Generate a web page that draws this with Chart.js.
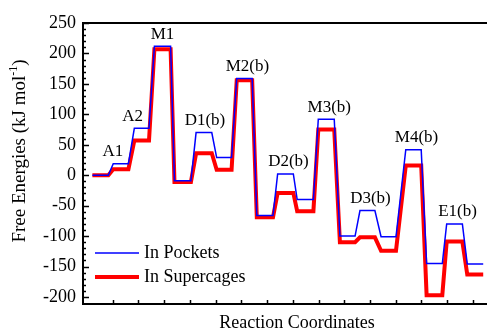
<!DOCTYPE html>
<html>
<head>
<meta charset="utf-8">
<script src="https://cdn.jsdelivr.net/npm/chart.js@4.4.1/dist/chart.umd.min.js"></script>
<style>
  html, body { margin: 0; padding: 0; background: #fff; overflow: hidden; }
  #wrap { width: 512px; height: 333px; }
</style>
</head>
<body>
<div id="wrap"><canvas id="chart" width="512" height="333"></canvas></div>
<script>
// names of the plateaus ('' = unlabelled intermediate)
const stateNames = ['', 'A1', 'A2', 'M1', '', 'D1(b)', '', 'M2(b)', '', 'D2(b)', '', 'M3(b)', '', 'D3(b)', '', 'M4(b)', '', 'E1(b)', ''];
// where each plateau starts / ends along the reaction coordinate
const levelStart = [0.21, 1.02, 1.84, 2.62, 3.40, 4.24, 5.04, 5.82, 6.60, 7.41, 8.17, 8.99, 9.83, 10.61, 11.43, 12.39, 13.20, 13.98, 14.78];
const levelEnd = [0.83, 1.61, 2.41, 3.25, 4.04, 4.85, 5.62, 6.42, 7.23, 8.02, 8.80, 9.61, 10.42, 11.19, 12.01, 12.99, 13.81, 14.59, 15.40];
// free energies, kJ/mol
const pocketsEnergy = [0, 19, 77, 212, -9, 70, 29, 159, -66, 2, -40, 92, -100, -58, -101, 42, -145, -80, -146];
const supercagesEnergy = [0, 10, 57, 207, -11, 36, 9, 156, -69, -29, -59, 75, -110, -102, -124, 16, -197, -109, -163];
const yTickLabels = [-200, -150, -100, -50, 0, 50, 100, 150, 200, 250];

const serif = '"Liberation Serif", "Times New Roman", serif';
Chart.defaults.font.family = serif;
Chart.defaults.color = '#000';

// each plateau -> two points (flat segment), slants come from joining them
function toPoints(values) {
  return values.flatMap((v, i) => [{ x: levelStart[i], y: v }, { x: levelEnd[i], y: v }]);
}

// small nudges for the state labels (px)
const labelShift = { 'A1': -8, 'A2': -9, 'M1': 0, 'D1(b)': 1 };

const decorPlugin = {
  id: 'decor',
  afterDraw(chart) {
    const { ctx, chartArea, scales } = chart;
    const xs = scales.x, ys = scales.y;
    ctx.save();
    ctx.strokeStyle = '#000';

    // top frame line
    ctx.lineWidth = 2;
    ctx.beginPath();
    ctx.moveTo(chartArea.left, chartArea.top);
    ctx.lineTo(chartArea.right, chartArea.top);
    ctx.stroke();

    // inward ticks on y (major every 50, minor every 10)
    ctx.lineWidth = 1.5;
    ys.ticks.forEach(t => {
      if (t.value % 10 !== 0) return;
      const y = Math.round(ys.getPixelForValue(t.value)) + 0.5;
      const len = t.value % 50 === 0 ? 6 : 3;
      ctx.beginPath();
      ctx.moveTo(chartArea.left, y);
      ctx.lineTo(chartArea.left + len, y);
      ctx.stroke();
    });
    // upward ticks on x
    xs.ticks.forEach(t => {
      if (!Number.isInteger(t.value)) return;
      const x = Math.round(xs.getPixelForValue(t.value)) + 0.5;
      ctx.beginPath();
      ctx.moveTo(x, chartArea.bottom);
      ctx.lineTo(x, chartArea.bottom - 4);
      ctx.stroke();
    });

    // state labels above the "In Pockets" plateaus
    ctx.fillStyle = '#000';
    ctx.font = '17px ' + serif;
    ctx.textAlign = 'center';
    ctx.textBaseline = 'middle';
    stateNames.forEach((name, i) => {
      if (!name) return;
      const mid = (levelStart[i] + levelEnd[i]) / 2;
      const dx = labelShift[name] !== undefined ? labelShift[name] : 3;
      ctx.fillText(name, xs.getPixelForValue(mid) + dx, ys.getPixelForValue(pocketsEnergy[i]) - 12);
    });

    // y axis title with superscript
    ctx.save();
    ctx.translate(20, 151);
    ctx.rotate(-Math.PI / 2);
    const main = 'Free Energies (kJ mol';
    const sup = '-1';
    const close = ')';
    ctx.font = '19px ' + serif;
    const wMain = ctx.measureText(main).width;
    const wClose = ctx.measureText(close).width;
    ctx.font = '12px ' + serif;
    const wSup = ctx.measureText(sup).width;
    const x0 = -(wMain + wSup + wClose) / 2;
    ctx.textAlign = 'left';
    ctx.font = '19px ' + serif;
    ctx.fillText(main, x0, 0);
    ctx.font = '12px ' + serif;
    ctx.fillText(sup, x0 + wMain, -6);
    ctx.font = '19px ' + serif;
    ctx.fillText(close, x0 + wMain + wSup, 0);
    ctx.restore();

    // legend, bottom-left inside the plot
    ctx.font = '18px ' + serif;
    ctx.textAlign = 'left';
    ctx.textBaseline = 'middle';
    chart.data.datasets.forEach((ds, i) => {
      const y = 253 + i * 24;
      ctx.strokeStyle = ds.borderColor;
      ctx.lineWidth = ds.borderWidth;
      ctx.beginPath();
      ctx.moveTo(95, y);
      ctx.lineTo(139, y);
      ctx.stroke();
      ctx.fillStyle = '#000';
      ctx.fillText(ds.label, 144, y);
    });
    ctx.restore();
  }
};

const ctx = document.getElementById('chart').getContext('2d');
new Chart(ctx, {
  type: 'line',
  data: {
    datasets: [
      {
        label: 'In Pockets',
        data: toPoints(pocketsEnergy),
        borderColor: '#0000ff',
        borderWidth: 1.5,
        pointRadius: 0,
        tension: 0,
        fill: false
      },
      {
        label: 'In Supercages',
        data: toPoints(supercagesEnergy),
        borderColor: '#ff0000',
        borderWidth: 4,
        pointRadius: 0,
        tension: 0,
        fill: false
      }
    ]
  },
  options: {
    responsive: false,
    animation: false,
    layout: { padding: { top: 23, right: 1, left: 0, bottom: 0 } },
    plugins: {
      legend: { display: false },
      tooltip: { enabled: false }
    },
    scales: {
      x: {
        type: 'linear',
        min: -0.155,
        max: 16.48,
        grid: { display: false, drawTicks: false },
        border: { display: true, color: '#000', width: 2 },
        ticks: { display: false, stepSize: 1 },
        title: {
          display: true,
          text: 'Reaction Coordinates',
          color: '#000',
          font: { family: serif, size: 18, lineHeight: 1 },
          padding: { top: 0, bottom: 1 }
        },
        afterFit: s => { s.height = 29; }
      },
      y: {
        min: -211.5,
        max: 250,
        grid: { display: false, drawTicks: false },
        border: { display: true, color: '#000', width: 2 },
        ticks: {
          stepSize: 10,
          autoSkip: false,
          padding: 7,
          color: '#000',
          font: { family: serif, size: 18 },
          callback: v => yTickLabels.includes(v) ? String(v) : ''
        },
        afterFit: s => { s.width = 83; }
      }
    }
  },
  plugins: [decorPlugin]
});
</script>
</body>
</html>
